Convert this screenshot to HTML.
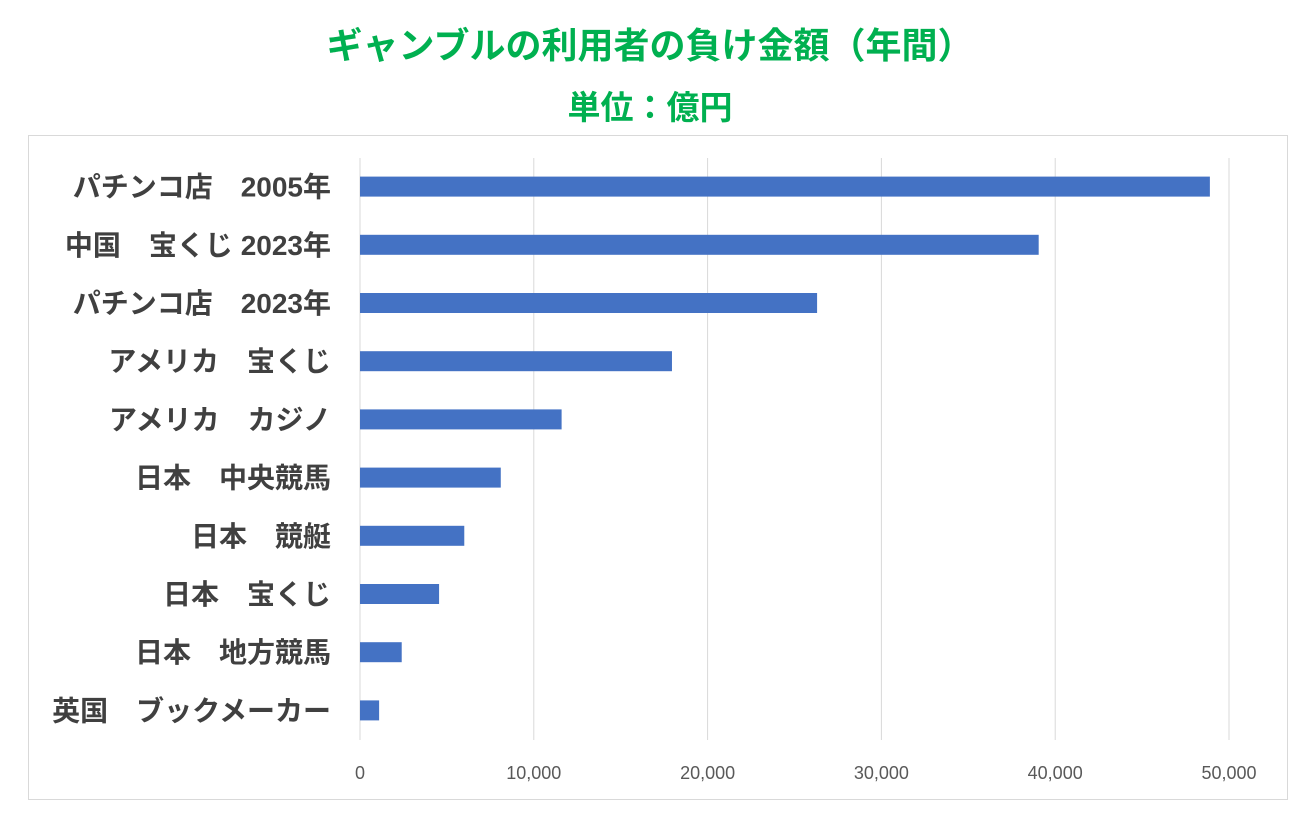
<!DOCTYPE html>
<html><head><meta charset="utf-8">
<style>
html,body{margin:0;padding:0;background:#fff;}
body{width:1300px;height:819px;position:relative;overflow:hidden;font-family:"Liberation Sans","Noto Sans CJK JP",sans-serif;}
.t{position:absolute;left:0;width:1300px;text-align:center;color:#00B050;font-weight:bold;}
</style></head><body>
<div class="t" style="top:17px;font-size:36px;">ギャンブルの利用者の負け金額（年間）</div>
<div class="t" style="top:81px;font-size:33px;">単位：億円</div>
<svg id="chart" width="1300" height="819" style="position:absolute;left:0;top:0;">
<rect x="28.5" y="135.5" width="1259" height="664" fill="none" stroke="#d9d9d9" stroke-width="1"/>
</svg>
<script>
const categories=["パチンコ店　2005年","中国　宝くじ 2023年","パチンコ店　2023年","アメリカ　宝くじ","アメリカ　カジノ","日本　中央競馬","日本　競艇","日本　宝くじ","日本　地方競馬","英国　ブックメーカー"];
const values=[48900,39050,26300,17950,11600,8100,6000,4550,2400,1100];
const ticks=[0,10000,20000,30000,40000,50000];
const tickLabels=["0","10,000","20,000","30,000","40,000","50,000"];
const NS="http://www.w3.org/2000/svg";
const svg=document.getElementById('chart');
const x0=360,x1=1229,xmax=50000,yTop=158,yBot=740;
const xs=v=>x0+(x1-x0)*v/xmax;
const band=(yBot-yTop)/categories.length;
const yc=i=>yTop+band*(i+0.5)-0.5;
function mk(t,a){const e=document.createElementNS(NS,t);for(const k in a)e.setAttribute(k,a[k]);svg.appendChild(e);return e;}
ticks.forEach((t,i)=>{
  const l=mk('line',{x1:xs(t),x2:xs(t),y1:yTop,y2:yBot,stroke:'#d9d9d9','stroke-width':1});
  
  
  const tx=mk('text',{x:xs(t),y:779,'text-anchor':'middle','font-size':18,fill:'#595959'});
  tx.textContent=tickLabels[i];
  
  
});
categories.forEach((c,i)=>{
  const r=mk('rect',{x:x0,y:yc(i)-10,width:xs(values[i])-x0,height:20,fill:'#4472C4'});
  
  
  const tx=mk('text',{x:331,y:yc(i)+10,'text-anchor':'end','font-size':28,'font-weight':'bold',fill:'#404040'});
  tx.textContent=c;
  
  
});
</script>
</body></html>
